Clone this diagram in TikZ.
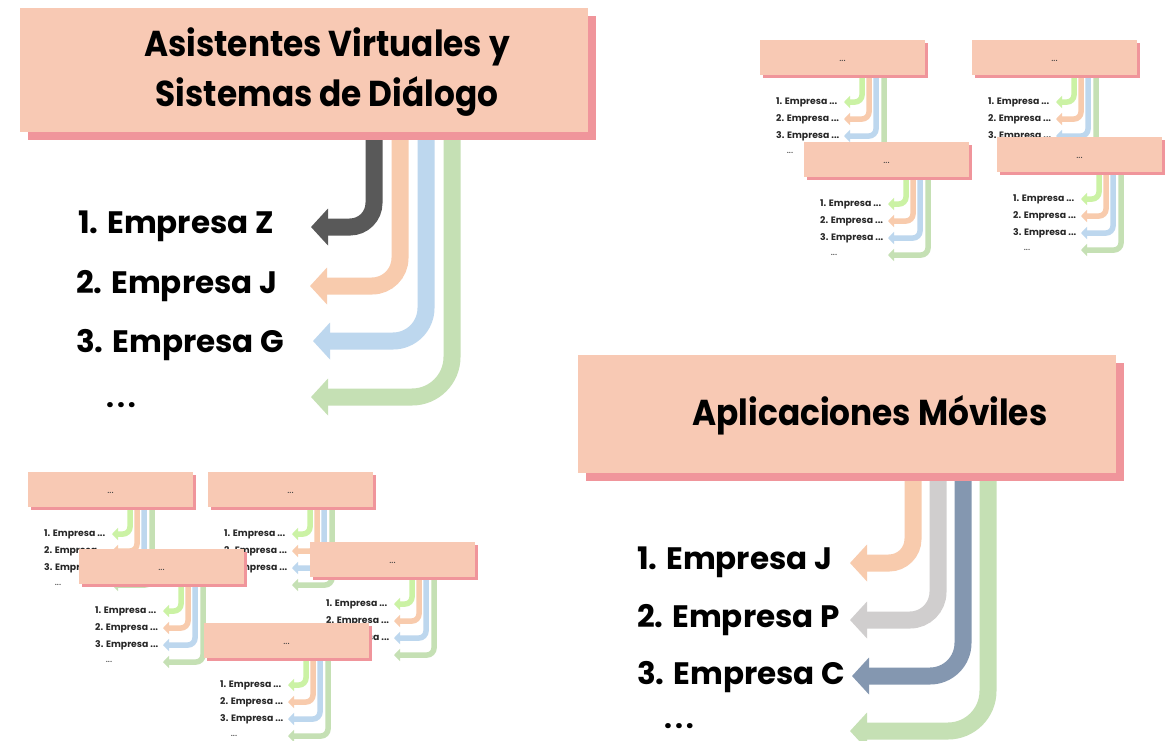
\documentclass[tikz,border=0pt]{standalone}
\usepackage{fontspec}
\setmainfont{Poppins}
\newfontfamily\titlefont[FakeStretch=0.91]{Poppins}
\usetikzlibrary{arrows.meta,calc}
\definecolor{boxfill}{HTML}{F8C9B4}
\definecolor{boxshadow}{HTML}{F0959B}
\definecolor{darkg}{HTML}{595959}
\definecolor{peach}{HTML}{F8CBAD}
\definecolor{lblue}{HTML}{BDD7EE}
\definecolor{lgreen}{HTML}{C5E0B4}
\definecolor{lime}{HTML}{CBF2A4}
\definecolor{lgrey}{HTML}{D0CECE}
\definecolor{navy}{HTML}{8497B0}
\tikzset{
 bigarrow/.style={line width=17pt, -{Triangle[width=36pt,length=17pt]}},
 smallarrow/.style={line width=5.5pt, rounded corners=7pt, -{Triangle[width=12pt,length=6pt]}},
 bigbox/.style={fill=boxfill, anchor=north west, inner sep=0pt},
 smallbox/.style={fill=boxfill, anchor=north west, inner sep=0pt, minimum width=165pt, minimum height=35pt},
 bigtitle/.style={font=\titlefont\bfseries\fontsize{36}{50}\selectfont, align=center, text=black, inner sep=0pt},
 biglist/.style={font=\bfseries\fontsize{31}{36}\selectfont, anchor=west, text=black, inner sep=0pt},
 bigdots/.style={font=\bfseries\fontsize{28}{34}\selectfont, text=black, inner sep=0pt},
 smalllist/.style={font=\bfseries\fontsize{9.3}{11}\selectfont, anchor=west, text=black!85, inner sep=0pt},
 smalldots/.style={font=\fontsize{10}{11}\selectfont, text=black!75, inner sep=0pt},
}
\newcommand\bigellipsis{.\kern3pt.\kern3pt.}
\newcommand\smallcard[3]{%
\begin{scope}[shift={(#2,#3)}]
 \coordinate (#1c1) at (102,35); \coordinate (#1c2) at (109,35);
 \coordinate (#1c3) at (116,35); \coordinate (#1c4) at (124,35);
 \coordinate (#1t1) at (84,62); \coordinate (#1t2) at (84,79);
 \coordinate (#1t3) at (84,96); \coordinate (#1t4) at (84,113);
 \draw[smallarrow, lime] (#1c1) |- (#1t1);
 \draw[smallarrow, peach] (#1c2) |- (#1t2);
 \draw[smallarrow, lblue] (#1c3) |- (#1t3);
 \draw[smallarrow, lgreen] (#1c4) |- (#1t4);
 \fill[boxshadow] (3,3) rectangle (168,38);
 \node[smallbox] (#1box) at (0,0) {};
 \node[smalldots] (#1dots) at (82.5,20.5) {...};
 \node[smalllist] (#1a) at (16,62) {1. Empresa ...};
 \node[smalllist] (#1b) at (16,79) {2. Empresa ...};
 \node[smalllist] (#1c) at (16,96) {3. Empresa ...};
 \node[smalldots] (#1d) at (30,113) {...};
\end{scope}}
\begin{document}
\begin{tikzpicture}[x=1pt,y=-1pt]
\fill[white] (0,0) rectangle (1171,740);
\useasboundingbox (0,0) rectangle (1171,740);

% ---- Card 1
\coordinate (ac1) at (374,132); \coordinate (ac2) at (400,132);
\coordinate (ac3) at (426,132); \coordinate (ac4) at (452,132);
\node[biglist] (a1) at (78,226) {1. Empresa Z};
\node[biglist] (a2) at (76,286) {2. Empresa J};
\node[biglist] (a3) at (76,345) {3. Empresa G};
\node[bigdots] (a4) at (121,405) {\bigellipsis};
\coordinate (at1) at (311,227); \coordinate (at2) at (310,286);
\coordinate (at3) at (313,341); \coordinate (at4) at (311,397);
\draw[bigarrow, darkg, rounded corners=24pt] (ac1) |- (at1);
\draw[bigarrow, peach, rounded corners=28pt] (ac2) |- (at2);
\draw[bigarrow, lblue, rounded corners=33pt] (ac3) |- (at3);
\draw[bigarrow, lgreen, rounded corners=40pt] (ac4) |- (at4);
\fill[boxshadow] (28,16) rectangle (596,140);
\node[bigbox, minimum width=568pt, minimum height=124pt] (abox) at (20,8) {};
\node[bigtitle] (atitle) at (327,72) {Asistentes Virtuales y\\Sistemas de Diálogo};

% ---- Card 2
\coordinate (bc1) at (913,473); \coordinate (bc2) at (938,473);
\coordinate (bc3) at (963,473); \coordinate (bc4) at (988,473);
\node[biglist] (b1) at (637,562) {1. Empresa J};
\node[biglist] (b2) at (637,620) {2. Empresa P};
\node[biglist] (b3) at (637,677) {3. Empresa C};
\node[bigdots] (b4) at (679,726) {\bigellipsis};
\coordinate (bt1) at (850,563); \coordinate (bt2) at (850,620);
\coordinate (bt3) at (852,676); \coordinate (bt4) at (850,731);
\draw[bigarrow, peach, rounded corners=24pt] (bc1) |- (bt1);
\draw[bigarrow, lgrey, rounded corners=28pt] (bc2) |- (bt2);
\draw[bigarrow, navy, rounded corners=33pt] (bc3) |- (bt3);
\draw[bigarrow, lgreen, rounded corners=40pt] (bc4) |- (bt4);
\fill[boxshadow] (586,363) rectangle (1124,481);
\node[bigbox, minimum width=538pt, minimum height=118pt] (bbox) at (578,355) {};
\node[bigtitle] (btitle) at (870,415) {Aplicaciones Móviles};

% ---- top-right cluster
\smallcard{sa}{760}{40}
\smallcard{sb}{972}{40}
\smallcard{sc}{804}{142}
\smallcard{sd}{997}{137}

% ---- bottom-left cluster
\smallcard{se}{28}{472}
\smallcard{sf}{208}{472}
\smallcard{sg}{79}{549}
\smallcard{sh}{310}{542}
\smallcard{si}{204}{623}
\end{tikzpicture}
\end{document}
